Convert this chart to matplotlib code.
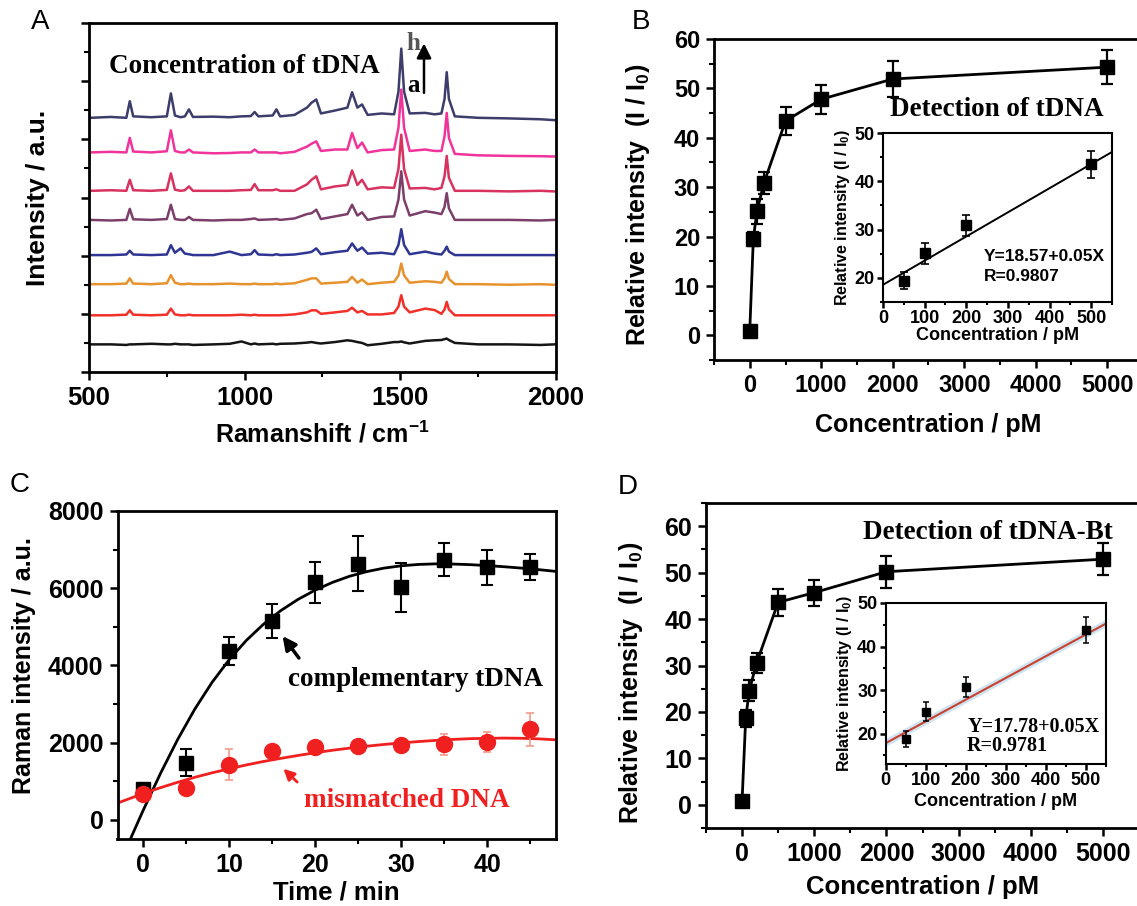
import numpy as np
import matplotlib
matplotlib.use('Agg')
import matplotlib.pyplot as plt
from matplotlib.ticker import MultipleLocator, NullFormatter

plt.rcParams['font.family'] = 'Liberation Sans'
plt.rcParams['font.weight'] = 'bold'
plt.rcParams['mathtext.fontset'] = 'custom'
plt.rcParams['mathtext.rm'] = 'Liberation Sans:bold'
plt.rcParams['mathtext.default'] = 'rm'
plt.rcParams['axes.linewidth'] = 2
SERIF = 'Liberation Serif'

# ---- Panel A: Raman spectra a..h (height above each trace's baseline)
raman_shift = [505, 570, 620, 631, 642, 700, 750, 763, 776, 794,
               808, 821, 834, 900, 952, 990, 1020, 1032, 1044, 1090,
               1102, 1114, 1160, 1200, 1215, 1230, 1245, 1290, 1330, 1345,
               1362, 1377, 1395, 1440, 1480, 1494, 1503, 1512, 1530, 1580,
               1610, 1632, 1642, 1649, 1656, 1675, 1750, 1850, 1950, 1995]
spec_a = [0.0, 0.0, -0.02, 0.0, 0.0, 0.02, 0.0, 0.0, 0.02, 0.0,
          0.0, 0.0, -0.02, 0.0, 0.02, 0.1, 0.0, 0.03, 0.0, 0.02,
          0.0, 0.02, 0.03, 0.06, 0.08, 0.05, 0.03, 0.08, 0.14, 0.12,
          0.08, 0.05, -0.03, 0.02, 0.08, 0.08, 0.1, 0.07, 0.03, 0.12,
          0.14, 0.15, 0.18, 0.2, 0.15, 0.05, 0.0, 0.0, -0.02, 0.0]
spec_b = [0.0, 0.0, 0.02, 0.17, 0.02, 0.0, 0.02, 0.23, 0.03, 0.0,
          0.0, 0.02, 0.0, 0.0, 0.0, 0.02, 0.0, 0.02, 0.0, 0.0,
          0.0, 0.0, 0.03, 0.1, 0.17, 0.17, 0.05, 0.1, 0.15, 0.26,
          0.1, 0.15, 0.03, 0.03, 0.08, 0.3, 0.69, 0.3, 0.1, 0.23,
          0.18, 0.05, 0.2, 0.46, 0.2, 0.0, 0.0, 0.0, 0.0, 0.0]
spec_c = [0.0, 0.0, 0.02, 0.2, 0.02, 0.0, 0.03, 0.31, 0.05, 0.0,
          0.0, 0.02, 0.0, 0.0, 0.02, 0.0, 0.0, 0.02, 0.0, 0.0,
          0.02, 0.0, 0.03, 0.15, 0.2, 0.2, 0.02, 0.05, 0.08, 0.25,
          0.05, 0.16, 0.0, 0.05, 0.08, 0.3, 0.71, 0.3, 0.05, 0.1,
          0.08, 0.05, 0.2, 0.43, 0.18, 0.0, 0.0, -0.02, 0.0, -0.02]
spec_d = [0.0, 0.0, 0.02, 0.15, 0.02, 0.0, 0.02, 0.34, 0.08, 0.23,
          0.05, 0.03, 0.0, 0.0, 0.12, 0.0, 0.03, 0.17, 0.02, 0.0,
          0.03, 0.0, 0.02, 0.08, 0.11, 0.23, 0.03, 0.1, 0.15, 0.4,
          0.15, 0.26, 0.05, 0.08, 0.03, 0.35, 0.89, 0.35, 0.03, 0.12,
          0.05, 0.02, 0.15, 0.29, 0.12, 0.0, 0.0, 0.0, 0.0, 0.0]
spec_e = [0.0, -0.02, 0.0, 0.38, 0.02, 0.0, 0.03, 0.52, 0.03, 0.0,
          0.0, 0.1, 0.0, -0.02, 0.0, 0.0, 0.03, 0.05, 0.0, 0.02,
          0.03, 0.0, 0.05, 0.2, 0.23, 0.35, 0.03, 0.12, 0.2, 0.52,
          0.15, 0.26, 0.0, 0.1, 0.12, 0.7, 1.67, 0.7, 0.15, 0.3,
          0.25, 0.2, 0.45, 0.92, 0.4, 0.0, 0.0, 0.0, -0.02, 0.0]
spec_f = [0.0, 0.02, 0.0, 0.38, 0.02, 0.0, 0.03, 0.6, 0.04, 0.0,
          0.02, 0.15, 0.0, 0.0, 0.0, 0.02, 0.03, 0.23, 0.02, 0.02,
          0.05, 0.0, 0.0, 0.22, 0.38, 0.5, 0.05, 0.15, 0.2, 0.7,
          0.2, 0.38, 0.05, 0.12, 0.1, 0.75, 1.93, 0.75, 0.08, 0.1,
          0.05, 0.1, 0.5, 1.2, 0.45, 0.0, 0.0, -0.02, 0.0, -0.02]
spec_g = [0.0, 0.02, 0.0, 0.5, 0.03, 0.0, 0.04, 0.76, 0.05, 0.0,
          0.0, 0.1, 0.0, -0.03, -0.02, 0.0, 0.0, 0.1, 0.0, 0.0,
          0.0, -0.03, 0.02, 0.2, 0.3, 0.38, 0.05, 0.1, 0.1, 0.67,
          0.15, 0.34, 0.0, 0.08, 0.1, 0.85, 2.16, 0.85, 0.05, 0.1,
          0.05, 0.05, 0.55, 1.36, 0.5, -0.05, -0.1, -0.12, -0.13, -0.14]
spec_h = [0.0, 0.03, 0.0, 0.57, 0.05, 0.02, 0.05, 0.84, 0.08, 0.02,
          0.05, 0.29, 0.03, 0.04, 0.02, 0.05, 0.06, 0.2, 0.05, 0.08,
          0.29, 0.05, 0.1, 0.35, 0.52, 0.63, 0.15, 0.25, 0.35, 0.88,
          0.35, 0.46, 0.1, 0.15, 0.12, 0.9, 2.38, 0.9, 0.15, 0.17,
          0.12, 0.15, 0.65, 1.57, 0.65, 0.05, 0.0, -0.02, -0.05, -0.08]
spectra = [spec_a, spec_b, spec_c, spec_d, spec_e, spec_f, spec_g, spec_h]
spec_offsets = [0.95, 1.95, 3.02, 4.02, 5.23, 6.23, 7.55, 8.74]
spec_colors = ['#151515', '#f2302a', '#e8922e', '#2e3592',
               '#7b3f6a', '#d8325f', '#f0349b', '#3d3d6b']

# ---- Panel B: detection of tDNA
conc = [0, 50, 100, 200, 500, 1000, 2000, 5000]
rel_b = [0.9, 19.5, 25.1, 30.9, 43.4, 47.8, 51.9, 54.3]
err_b = [0.5, 1.5, 2.5, 2.2, 2.8, 2.9, 3.6, 3.4]
inset_conc = [50, 100, 200, 500]
inset_b = [19.4, 25.1, 30.9, 43.5]
inset_err_b = [1.8, 2.2, 2.2, 2.8]
fit_b = (18.57, 0.05)

# ---- Panel C: hybridization time
time_min = [0, 5, 10, 15, 20, 25, 30, 35, 40, 45]
comp = [800, 1470, 4380, 5150, 6150, 6630, 6020, 6740, 6540, 6540]
comp_err = [100, 350, 360, 440, 530, 710, 630, 420, 450, 340]
mism = [670, 830, 1430, 1770, 1890, 1900, 1930, 1950, 2020, 2340]
mism_err = [100, 100, 400, 150, 150, 120, 120, 280, 260, 430]
comp_fit_t = [-1.5, 0, 2, 4, 6, 8, 10, 12, 14, 16, 18, 20, 22, 24, 26,
              28, 30, 32, 34, 36, 38, 40, 42, 44, 46, 48]
comp_fit = [-500, 250, 1200, 2080, 2870, 3560, 4150, 4650, 5070, 5420,
            5710, 5950, 6150, 6310, 6430, 6520, 6580, 6615, 6630, 6625,
            6610, 6585, 6555, 6520, 6480, 6435]
mism_fit_t = [-3, 0, 2, 4, 6, 8, 10, 12, 14, 16, 18, 20, 22, 24, 26,
              28, 30, 32, 34, 36, 38, 40, 42, 44, 46, 48]
mism_fit = [430, 680, 830, 970, 1100, 1215, 1320, 1420, 1510, 1590,
            1665, 1735, 1800, 1855, 1905, 1950, 1990, 2025, 2055, 2080,
            2100, 2110, 2115, 2110, 2095, 2070]

# ---- Panel D: detection of tDNA-Bt
rel_d = [0.9, 18.6, 24.6, 30.5, 43.6, 45.7, 50.2, 52.9]
err_d = [0.5, 1.8, 2.2, 2.2, 2.9, 2.8, 3.4, 3.5]
inset_d = [18.8, 25.0, 30.6, 43.8]
inset_err_d = [1.8, 2.2, 2.3, 2.9]
fit_d = (17.78, 0.05)

W, H = 1137, 906
fig = plt.figure(figsize=(W / 100, H / 100), dpi=100)


def box(l, t, r, b):
    return [l / W, 1 - b / H, (r - l) / W, (b - t) / H]


def style(ax, size=16, major=6, minor=3.5):
    ax.tick_params(which='major', direction='out', length=major, width=1.8,
                   labelsize=size, pad=4)
    ax.tick_params(which='minor', direction='out', length=minor, width=1.5)
    for lab in ax.get_xticklabels() + ax.get_yticklabels():
        lab.set_fontweight('bold')


# ---------------- A
axA = fig.add_axes(box(89, 23, 556, 372))
for s, off, col in zip(spectra, spec_offsets, spec_colors):
    axA.plot(raman_shift, np.array(s) + off, color=col, lw=1.8)
axA.set_xlim(500, 2000)
axA.set_ylim(0, 12)
axA.xaxis.set_major_locator(MultipleLocator(500))
axA.xaxis.set_minor_locator(MultipleLocator(250))
axA.yaxis.set_major_locator(MultipleLocator(2))
axA.yaxis.set_minor_locator(MultipleLocator(1))
axA.yaxis.set_major_formatter(NullFormatter())
style(axA, size=18.5)
axA.set_xlabel('Ramanshift / cm$^{-1}$', fontsize=18, fontweight='bold')
axA.set_ylabel('Intensity / a.u.', fontsize=19, fontweight='bold')
axA.xaxis.set_label_coords(0.5, -0.14)
axA.yaxis.set_label_coords(-0.083, 0.5)
axA.text(0.043, 0.874, 'Concentration of tDNA', transform=axA.transAxes,
         family=SERIF, fontsize=19.5, fontweight='bold', va='center')
axA.text(1541, 11.3, 'h', family=SERIF, fontsize=18, fontweight='bold',
         color='#555555', ha='center', va='center')
axA.text(1541, 9.85, 'a', family=SERIF, fontsize=18, fontweight='bold',
         color='black', ha='center', va='center')
axA.annotate('', xy=(1576, 11.3), xytext=(1576, 9.6),
             arrowprops=dict(arrowstyle='-|>', color='black', lw=1.8,
                             mutation_scale=22, shrinkA=0, shrinkB=0))
fig.text(40 / W, 1 - 22 / H, 'A', fontsize=20, fontweight='normal',
         ha='center', va='center')

# ---------------- B
axB = fig.add_axes(box(714, 39, 1143, 360))
axB.errorbar(conc, rel_b, yerr=err_b, fmt='-s', color='black', ms=9.5,
             lw=2, elinewidth=1.6, capsize=4, capthick=1.6)
axB.set_xlim(-500, 5500)
axB.set_ylim(-5, 60)
axB.xaxis.set_major_locator(MultipleLocator(1000))
axB.xaxis.set_minor_locator(MultipleLocator(500))
axB.yaxis.set_major_locator(MultipleLocator(10))
axB.yaxis.set_minor_locator(MultipleLocator(5))
style(axB, size=17)
axB.set_xlabel('Concentration / pM', fontsize=18, fontweight='bold')
axB.set_ylabel('Relative intensity  (I / I$_0$)', fontsize=18, fontweight='bold')
axB.xaxis.set_label_coords(0.5, -0.165)
axB.yaxis.set_label_coords(-0.145, 0.483)
axB.text(0.41, 0.779, 'Detection of tDNA', transform=axB.transAxes,
         family=SERIF, fontsize=19.5, fontweight='bold', va='center')
fig.text(641 / W, 1 - 22 / H, 'B', fontsize=20, fontweight='normal',
         ha='center', va='center')

axBi = fig.add_axes(box(883, 133, 1112, 302))
axBi.errorbar(inset_conc, inset_b, yerr=inset_err_b, fmt='s', color='black',
              ms=7, elinewidth=1.2, capsize=3, capthick=1.2)
xs = np.array([0, 550])
axBi.plot(xs, fit_b[0] + fit_b[1] * xs, color='black', lw=1.4)
axBi.set_xlim(0, 550)
axBi.set_ylim(15, 50)
axBi.xaxis.set_major_locator(MultipleLocator(100))
axBi.xaxis.set_minor_locator(MultipleLocator(50))
axBi.yaxis.set_major_locator(MultipleLocator(10))
axBi.yaxis.set_minor_locator(MultipleLocator(5))
for sp in axBi.spines.values():
    sp.set_linewidth(1.5)
style(axBi, size=13, major=4, minor=2.5)
axBi.tick_params(pad=2)
axBi.set_xlabel('Concentration / pM', fontsize=13, fontweight='bold', labelpad=0)
axBi.set_ylabel('Relative intensity (I / I$_0$)', fontsize=11.5,
                fontweight='bold', labelpad=2)
axBi.text(0.44, 0.27, 'Y=18.57+0.05X', transform=axBi.transAxes,
          fontsize=12.5, fontweight='bold', va='center')
axBi.text(0.44, 0.15, 'R=0.9807', transform=axBi.transAxes,
          fontsize=12.5, fontweight='bold', va='center')

# ---------------- C
axC = fig.add_axes(box(117.5, 511, 556, 839))
axC.plot(comp_fit_t, comp_fit, color='black', lw=2)
axC.plot(mism_fit_t, mism_fit, color='#f02020', lw=2)
axC.errorbar(time_min, comp, yerr=comp_err, fmt='s', color='black',
             ms=10.5, elinewidth=1.5, capsize=4, capthick=1.5)
axC.errorbar(time_min, mism, yerr=mism_err, fmt='o', color='#f02020',
             ecolor='#f59a8c', ms=11.5, elinewidth=1.2, capsize=3, capthick=1.2)
axC.set_xlim(-3, 48)
axC.set_ylim(-500, 8000)
axC.xaxis.set_major_locator(MultipleLocator(10))
axC.xaxis.set_minor_locator(MultipleLocator(5))
axC.yaxis.set_major_locator(MultipleLocator(2000))
axC.yaxis.set_minor_locator(MultipleLocator(1000))
style(axC, size=18)
axC.set_xlabel('Time / min', fontsize=18.5, fontweight='bold')
axC.set_ylabel('Raman intensity / a.u.', fontsize=18, fontweight='bold')
axC.xaxis.set_label_coords(0.5, -0.128)
axC.yaxis.set_label_coords(-0.186, 0.53)
axC.annotate('', xy=(16.2, 4760), xytext=(18.1, 4190),
             arrowprops=dict(arrowstyle='-|>', color='black', lw=2.5,
                             mutation_scale=20, shrinkA=0, shrinkB=0))
axC.annotate('', xy=(16.3, 1320), xytext=(17.9, 975),
             arrowprops=dict(arrowstyle='-|>', color='#f02020', lw=2,
                             mutation_scale=16, shrinkA=0, shrinkB=0))
axC.text(16.8, 3630, 'complementary tDNA', family=SERIF, fontsize=19.5,
         fontweight='bold', va='center')
axC.text(18.7, 500, 'mismatched DNA', family=SERIF, fontsize=19.5,
         fontweight='bold', va='center', color='#f02020')
fig.text(20 / W, 1 - 485 / H, 'C', fontsize=20, fontweight='normal',
         ha='center', va='center')

# ---------------- D
axD = fig.add_axes(box(706, 503, 1139, 828))
axD.errorbar(conc, rel_d, yerr=err_d, fmt='-s', color='black', ms=9.5,
             lw=2, elinewidth=1.6, capsize=4, capthick=1.6)
axD.set_xlim(-500, 5500)
axD.set_ylim(-5, 65)
axD.xaxis.set_major_locator(MultipleLocator(1000))
axD.xaxis.set_minor_locator(MultipleLocator(500))
axD.set_yticks([0, 10, 20, 30, 40, 50, 60])
axD.yaxis.set_minor_locator(MultipleLocator(5))
style(axD, size=18)
axD.set_xlabel('Concentration / pM', fontsize=18.5, fontweight='bold')
axD.set_ylabel('Relative intensity  (I / I$_0$)', fontsize=18, fontweight='bold')
axD.xaxis.set_label_coords(0.5, -0.145)
axD.yaxis.set_label_coords(-0.14, 0.446)
axD.text(0.362, 0.91, 'Detection of tDNA-Bt', transform=axD.transAxes,
         family=SERIF, fontsize=19.5, fontweight='bold', va='center')
fig.text(628 / W, 1 - 487 / H, 'D', fontsize=20, fontweight='normal',
         ha='center', va='center')

axDi = fig.add_axes(box(885.6, 603, 1106, 764))
xs = np.array([0, 550])
axDi.plot(xs, fit_d[0] + fit_d[1] * xs, color='#cfe4f2', lw=5)
axDi.plot(xs, fit_d[0] + fit_d[1] * xs, color='#c8412e', lw=1.5)
axDi.errorbar(inset_conc, inset_d, yerr=inset_err_d, fmt='s', color='black',
              ms=6, elinewidth=1.1, capsize=2.5, capthick=1.1)
axDi.set_xlim(0, 550)
axDi.set_ylim(13, 50)
axDi.xaxis.set_major_locator(MultipleLocator(100))
axDi.xaxis.set_minor_locator(MultipleLocator(50))
axDi.set_yticks([20, 30, 40, 50])
axDi.yaxis.set_minor_locator(MultipleLocator(5))
for sp in axDi.spines.values():
    sp.set_linewidth(1.5)
style(axDi, size=13, major=4, minor=2.5)
axDi.tick_params(pad=2)
axDi.set_xlabel('Concentration / pM', fontsize=13, fontweight='bold', labelpad=3)
axDi.set_ylabel('Relative intensity (I / I$_0$)', fontsize=11.5,
                fontweight='bold', labelpad=2)
axDi.text(0.37, 0.23, 'Y=17.78+0.05X', transform=axDi.transAxes,
          family=SERIF, fontsize=14.5, fontweight='bold', va='center')
axDi.text(0.37, 0.11, 'R=0.9781', transform=axDi.transAxes,
          family=SERIF, fontsize=14.5, fontweight='bold', va='center')

fig.savefig('out.png', dpi=100)
